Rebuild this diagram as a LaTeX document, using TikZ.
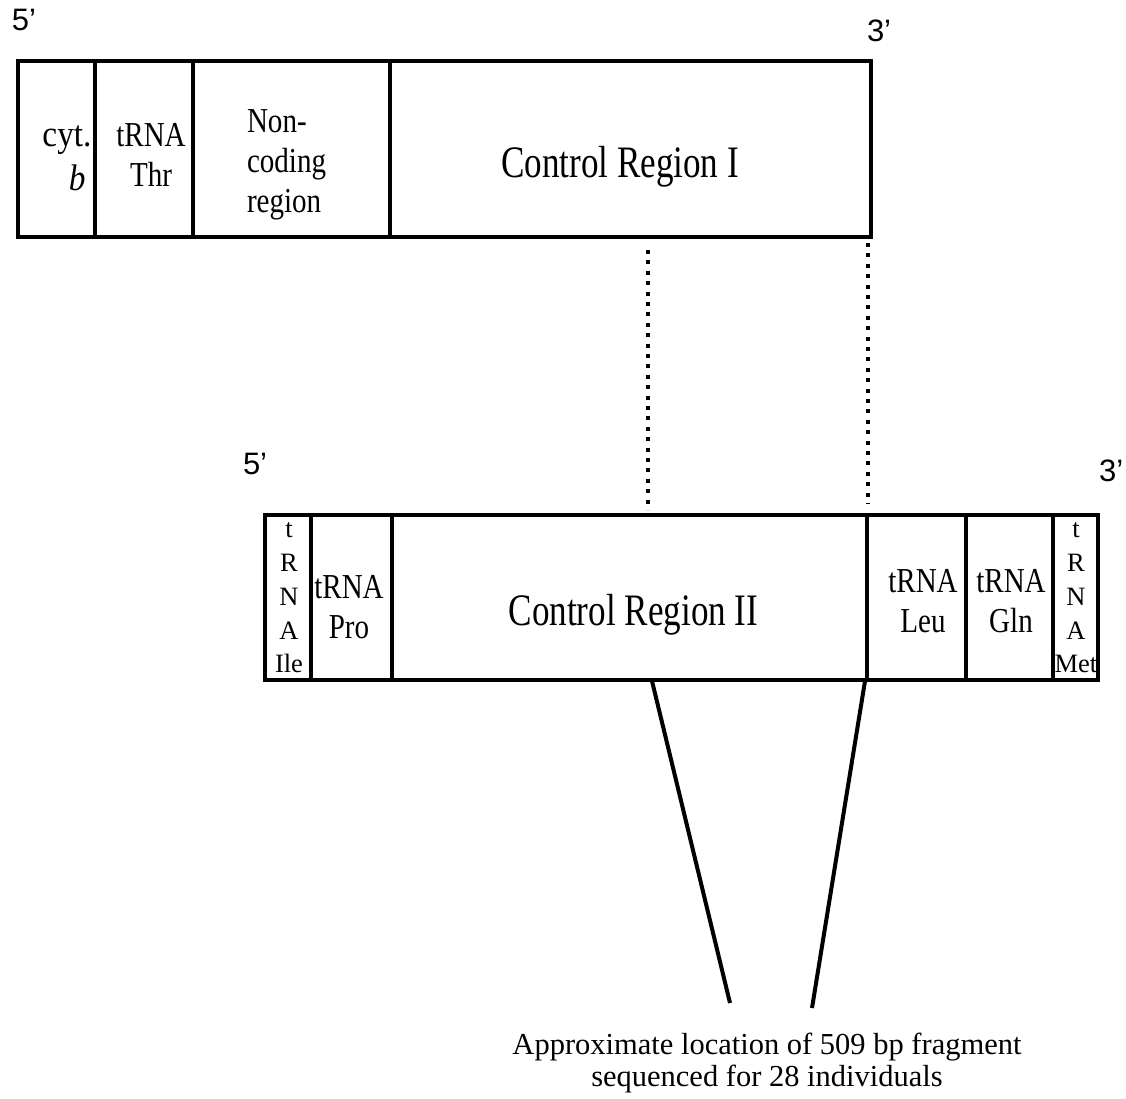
\documentclass[tikz,border=0pt]{standalone}
\usepackage{fontspec}
\setmainfont{Liberation Serif}
\newfontfamily\segfont[FakeStretch=0.83]{Liberation Serif}
\newfontfamily\cytfont[FakeStretch=0.9]{Liberation Serif}
\newfontfamily\crfont[FakeStretch=0.78]{Liberation Serif}
\newfontfamily\primefont{Liberation Sans}
\begin{document}
\begin{tikzpicture}[x=1pt,y=-1pt,
  seg/.style={draw, rectangle, line width=4pt, inner sep=0pt, outer sep=0pt},
  lbl/.style={inner sep=0pt, outer sep=0pt, align=center, font=\segfont\fontsize{35}{40}\selectfont},
  vlbl/.style={inner sep=0pt, outer sep=0pt, align=center, font=\fontsize{26.5}{33.75}\selectfont},
  crlbl/.style={inner sep=0pt, outer sep=0pt, anchor=base, font=\crfont\fontsize{45}{50}\selectfont},
  primelbl/.style={inner sep=0pt, outer sep=0pt, anchor=base west, font=\primefont\fontsize{31}{36}\selectfont},
  fraglbl/.style={inner sep=0pt, outer sep=0pt, align=center, font=\fontsize{30.5}{32}\selectfont},
  dotline/.style={line width=4pt, dash pattern=on 4pt off 6.4pt},
  fragline/.style={line width=4pt}]
\useasboundingbox (0,0) rectangle (1126,1098);
\fill[white] (0,0) rectangle (1126,1098);

% ---- upper map ----
\node[seg, minimum width=77pt,  minimum height=176pt] (cyt)  at (56.5,149) {};
\node[seg, minimum width=98pt,  minimum height=176pt] (thr)  at (144,149) {};
\node[seg, minimum width=197pt, minimum height=176pt] (nonc) at (291.5,149) {};
\node[seg, minimum width=481pt, minimum height=176pt] (cr1)  at (630.5,149) {};

\node[lbl, align=right, anchor=east, font=\cytfont\fontsize{37}{44}\selectfont] (cytT) at (91.5,158) {cyt.\\\textit{b}\hspace*{6pt}};
\node[lbl] (thrT) at (151,154.5) {tRNA\\Thr};
\node[lbl, align=left, anchor=west] (noncT) at (247,164.5) {Non-\\coding\\region};
\node[crlbl] (cr1T) at (620,177) {Control Region I};

\node[primelbl] (p5a) at (12,30) {5’};
\node[primelbl] (p3a) at (867,41) {3’};

% ---- lower map ----
\node[seg, minimum width=46pt,  minimum height=165pt] (ile)  at (288,597.5) {};
\node[seg, minimum width=81pt,  minimum height=165pt] (pro)  at (351.5,597.5) {};
\node[seg, minimum width=475pt, minimum height=165pt] (cr2)  at (629.5,597.5) {};
\node[seg, minimum width=99pt,  minimum height=165pt] (leu)  at (916.5,597.5) {};
\node[seg, minimum width=87pt,  minimum height=165pt] (gln)  at (1009.5,597.5) {};
\node[seg, minimum width=45pt,  minimum height=165pt] (met)  at (1075.5,597.5) {};

\node[vlbl] (ileT) at (289,598) {t\\R\\N\\A\\Ile};
\node[lbl] (proT) at (349,607.5) {tRNA\\Pro};
\node[crlbl] (cr2T) at (633.5,625) {Control Region II};
\node[lbl] (leuT) at (923,601.5) {tRNA\\Leu};
\node[lbl] (glnT) at (1011,601.5) {tRNA\\Gln};
\node[vlbl] (metT) at (1076,598) {t\\R\\N\\A\\Met};

\node[primelbl] (p5b) at (243,474) {5’};
\node[primelbl] (p3b) at (1099,481) {3’};

% ---- dotted correspondence lines ----
\coordinate (d1a) at (648,250);
\coordinate (d1b) at (648,510);
\coordinate (d2a) at (868,243);
\coordinate (d2b) at (868,504);
\draw[dotline] (d1a) -- (d1b);
\draw[dotline] (d2a) -- (d2b);

% ---- fragment lines ----
\node[fraglbl] (frag) at (767,1063) {Approximate location of 509 bp fragment\\sequenced for 28 individuals};
\coordinate (f1a) at (652,681);
\coordinate (f1b) at (730,1003);
\coordinate (f2a) at (865,681);
\coordinate (f2b) at (812,1008);
\draw[fragline] (f1a) -- (f1b);
\draw[fragline] (f2a) -- (f2b);
\end{tikzpicture}
\end{document}
